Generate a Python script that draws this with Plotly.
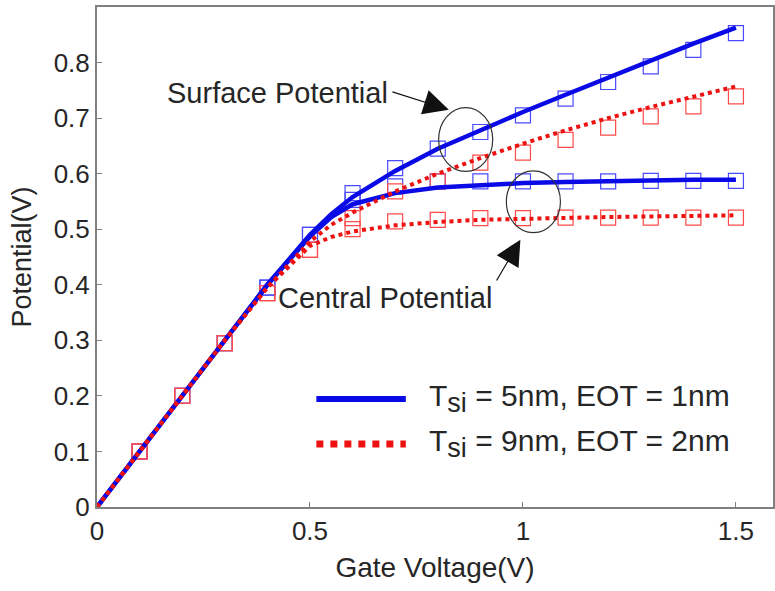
import plotly.graph_objects as go

# ---- data ----
vg_line = [0, 0.1, 0.2, 0.3, 0.4, 0.5, 0.55, 0.6, 0.7, 0.8, 0.9, 1.0, 1.1, 1.2, 1.3, 1.4, 1.5]
surf_5nm = [0, 0.1, 0.2, 0.3, 0.4, 0.49, 0.527, 0.558, 0.605, 0.645, 0.679, 0.711, 0.742, 0.773, 0.804, 0.834, 0.863]
cent_5nm = [0, 0.1, 0.2, 0.3, 0.4, 0.487, 0.522, 0.545, 0.565, 0.575, 0.580, 0.583, 0.585, 0.587, 0.588, 0.589, 0.589]
surf_9nm = [0, 0.1, 0.2, 0.3, 0.395, 0.478, 0.508, 0.530, 0.568, 0.600, 0.628, 0.654, 0.678, 0.700, 0.720, 0.739, 0.757]
cent_9nm = [0, 0.1, 0.2, 0.3, 0.395, 0.470, 0.486, 0.496, 0.507, 0.513, 0.517, 0.519, 0.521, 0.522, 0.523, 0.524, 0.525]

vg_pts = [0.1, 0.2, 0.3, 0.4, 0.5, 0.6, 0.7, 0.8, 0.9, 1.0, 1.1, 1.2, 1.3, 1.4, 1.5]
surf_5nm_pts = [0.1, 0.2, 0.295, 0.395, 0.49, 0.565, 0.61, 0.645, 0.675, 0.705, 0.735, 0.765, 0.793, 0.823, 0.853]
cent_5nm_pts = [0.1, 0.2, 0.295, 0.395, 0.49, 0.553, 0.577, 0.586, 0.586, 0.586, 0.586, 0.586, 0.587, 0.587, 0.587]
surf_9nm_pts = [0.1, 0.2, 0.295, 0.385, 0.463, 0.52, 0.568, 0.586, 0.62, 0.638, 0.661, 0.683, 0.703, 0.721, 0.739]
cent_9nm_pts = [0.1, 0.2, 0.295, 0.385, 0.463, 0.50, 0.514, 0.517, 0.52, 0.52, 0.521, 0.521, 0.521, 0.521, 0.521]

SUB = "<sub><span style='font-size:27px'>si</span></sub>"
legend_labels = ["T" + SUB + " = 5nm, EOT = 1nm", "T" + SUB + " = 9nm, EOT = 2nm"]
x_ticks = [0, 0.5, 1, 1.5]
x_ticktext = ["0", "0.5", "1", "1.5"]
y_ticks = [0, 0.1, 0.2, 0.3, 0.4, 0.5, 0.6, 0.7, 0.8]
y_ticktext = ["0", "0.1", "0.2", "0.3", "0.4", "0.5", "0.6", "0.7", "0.8"]

BLUE = "#0a0ae6"
RED = "#ee1111"
BLUE_M = "#4a4aff"
RED_M = "#ff4a4a"
FONT = "Liberation Sans, Arial, sans-serif"
TXT = "#262626"

fig = go.Figure()

# markers (model/simulation squares)
for ys, c in [(surf_5nm_pts, BLUE_M), (cent_5nm_pts, BLUE_M), (surf_9nm_pts, RED_M), (cent_9nm_pts, RED_M)]:
    fig.add_trace(go.Scatter(x=vg_pts, y=ys, mode="markers", showlegend=False,
                             marker=dict(symbol="square-open", size=15, color=c, line=dict(width=1.2, color=c))))

# lines
for ys in (surf_5nm, cent_5nm):
    fig.add_trace(go.Scatter(x=vg_line, y=ys, mode="lines", showlegend=False,
                             line=dict(color=BLUE, width=4.5)))
for ys in (surf_9nm, cent_9nm):
    fig.add_trace(go.Scatter(x=vg_line, y=ys, mode="lines", showlegend=False,
                             line=dict(color=RED, width=4, dash="dot")))

# circles
fig.add_shape(type="circle", xref="x", yref="y", x0=0.802, x1=0.929, y0=0.604, y1=0.719,
              line=dict(color="#333333", width=1.2))
fig.add_shape(type="circle", xref="x", yref="y", x0=0.961, x1=1.088, y0=0.494, y1=0.605,
              line=dict(color="#333333", width=1.2))

# legend swatches
fig.add_shape(type="line", xref="x", yref="y", x0=0.515, x1=0.725, y0=0.1946, y1=0.1946,
              line=dict(color=BLUE, width=6))
fig.add_shape(type="line", xref="x", yref="y", x0=0.515, x1=0.725, y0=0.1135, y1=0.1135,
              line=dict(color=RED, width=7, dash="dot"))

fig.add_annotation(x=0.774, y=0.1946, xref="x", yref="y", text=legend_labels[0], showarrow=False,
                   xanchor="left", yanchor="middle", font=dict(family=FONT, size=30, color=TXT))
fig.add_annotation(x=0.774, y=0.1135, xref="x", yref="y", text=legend_labels[1], showarrow=False,
                   xanchor="left", yanchor="middle", font=dict(family=FONT, size=30, color=TXT))

# text labels
fig.add_annotation(x=0.159, y=0.746, xref="x", yref="y", text="Surface Potential", showarrow=False,
                   xanchor="left", yanchor="middle", font=dict(family=FONT, size=29, color=TXT))
fig.add_annotation(x=0.421, y=0.377, xref="x", yref="y", text="Central Potential", showarrow=False,
                   xanchor="left", yanchor="middle", font=dict(family=FONT, size=29, color=TXT))

# arrows
fig.add_annotation(x=0.826, y=0.715, ax=0.690, ay=0.748, xref="x", yref="y", axref="x", ayref="y",
                   text="", showarrow=True, arrowhead=2, arrowsize=4.2, arrowwidth=1.2, arrowcolor="#111111")
fig.add_annotation(x=0.994, y=0.481, ax=0.936, ay=0.405, xref="x", yref="y", axref="x", ayref="y",
                   text="", showarrow=True, arrowhead=2, arrowsize=4.2, arrowwidth=1.2, arrowcolor="#111111")

axis_common = dict(showline=True, linecolor="#808080", linewidth=2, mirror=True, ticks="inside",
                   ticklen=5, tickcolor="#808080", showgrid=False, zeroline=False,
                   tickfont=dict(family=FONT, size=26, color=TXT))

fig.update_xaxes(range=[0, 1.587], tickvals=x_ticks, ticktext=x_ticktext,
                 title=dict(text="Gate Voltage(V)", font=dict(family=FONT, size=28, color=TXT), standoff=12),
                 **axis_common)
fig.update_yaxes(range=[0, 0.9], tickvals=y_ticks, ticktext=y_ticktext,
                 title=dict(text="Potential(V)", font=dict(family=FONT, size=27, color=TXT), standoff=14),
                 **axis_common)

fig.update_layout(width=775, height=591, margin=dict(l=97, r=0, t=7, b=84),
                  plot_bgcolor="white", paper_bgcolor="white", showlegend=False)

fig.write_html("out.html")
